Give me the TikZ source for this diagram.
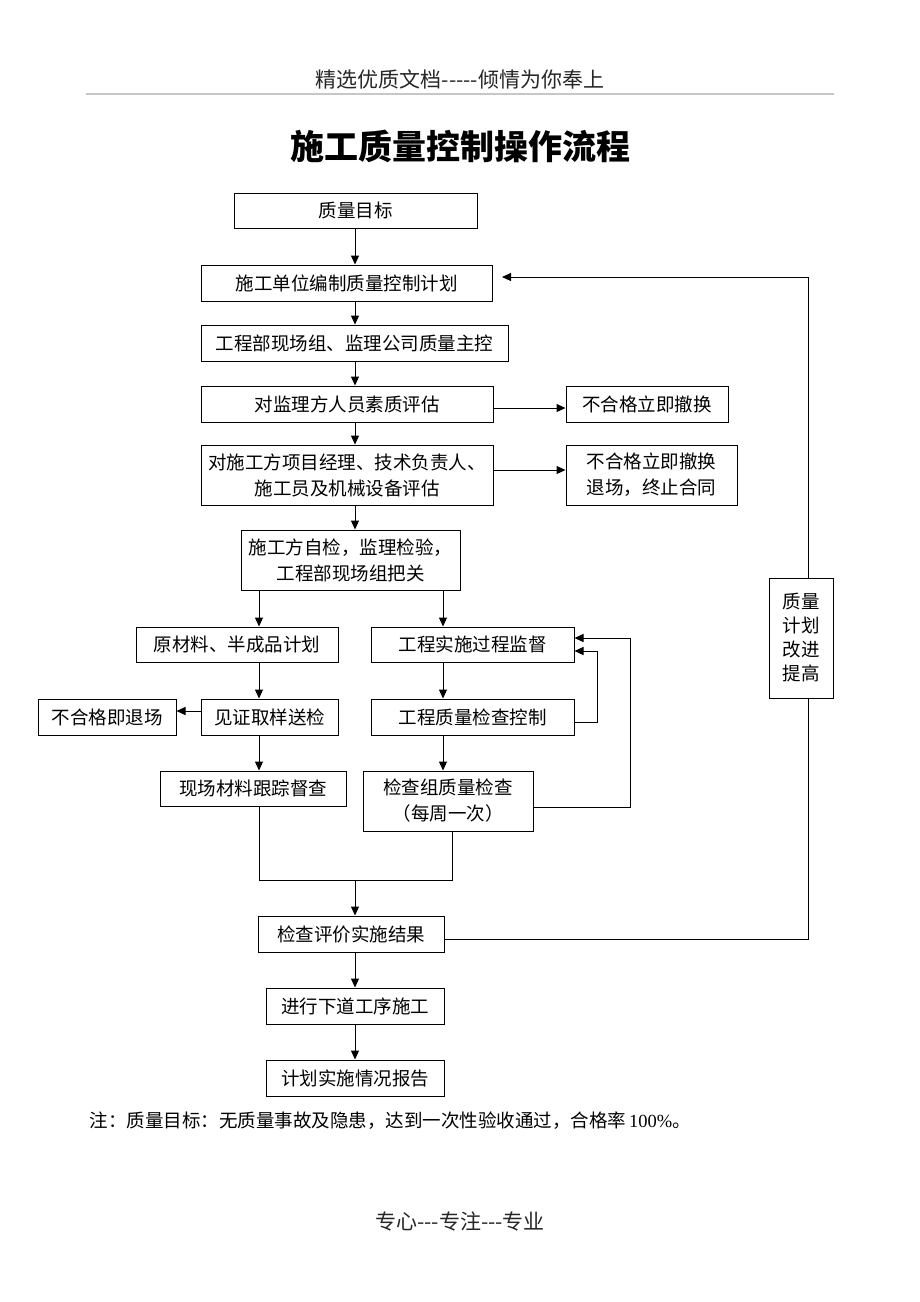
\documentclass[tikz,border=0pt]{standalone}
\usepackage{fontspec}
\setmainfont{Noto Sans CJK SC}
\newfontfamily\tms{Liberation Serif}
\usetikzlibrary{arrows.meta,backgrounds}
\begin{document}
\begin{tikzpicture}[x=1pt,y=-1pt,
  box/.style={draw,line width=1pt,fill=white,rectangle,inner sep=0pt,align=center,font=\fontsize{18.5}{26}\selectfont},
  arr/.style={line width=1pt,-{Triangle[length=9pt,width=8pt]}},
  ln/.style={line width=1pt}]
\useasboundingbox (0,0) rectangle (920,1302);

% header, title, notes
\node[font=\fontsize{21}{24}\selectfont,text=black!85] (hdr) at (460,79) {精选优质文档-{}-{}-{}-{}-倾情为你奉上};
\draw[line width=2pt,black!22] (86,94) -- (834,94);
\node[font=\fontsize{34}{38}\selectfont\bfseries] (title) at (460,146) {施工质量控制操作流程};
\node[font=\fontsize{18.5}{22}\selectfont,anchor=west] (note) at (86,1121) {注：质量目标：无质量事故及隐患，达到一次性验收通过，合格率\,{\tms 100\%}。};
\node[font=\fontsize{21}{24}\selectfont,text=black!85] (ftr) at (460,1221) {专心-{}-{}-专注-{}-{}-专业};

% main column
\node[box,minimum width=243,minimum height=35] (n1) at (355.5,210.5) {质量目标};
\node[box,minimum width=291,minimum height=36] (n2) at (346.5,283) {施工单位编制质量控制计划};
\node[box,minimum width=307,minimum height=36] (n3) at (354.5,343) {工程部现场组、监理公司质量主控};
\node[box,minimum width=292,minimum height=36] (n4) at (347,404) {对监理方人员素质评估};
\node[box,minimum width=162,minimum height=36] (r1) at (647,404) {不合格立即撤换};
\node[box,minimum width=292,minimum height=60] (n5) at (347,475) {对施工方项目经理、技术负责人、\\施工员及机械设备评估};
\node[box,minimum width=171,minimum height=60] (r2) at (651.5,475) {不合格立即撤换\\退场，终止合同};
\node[box,minimum width=219,minimum height=60] (n6) at (350.5,560) {施工方自检，监理检验，\\工程部现场组把关};

% left branch
\node[box,minimum width=202,minimum height=35] (a1) at (237,644.5) {原材料、半成品计划};
\node[box,minimum width=138,minimum height=36] (a0) at (107,717) {不合格即退场};
\node[box,minimum width=137,minimum height=36] (a2) at (269.5,717) {见证取样送检};
\node[box,minimum width=186,minimum height=35] (a3) at (253,788.5) {现场材料跟踪督查};

% right branch
\node[box,minimum width=203,minimum height=35] (b1) at (472.5,644.5) {工程实施过程监督};
\node[box,minimum width=203,minimum height=36] (b2) at (472.5,717) {工程质量检查控制};
\node[box,minimum width=170,minimum height=60] (b3) at (448,801) {检查组质量检查\\（每周一次）};

% lower column
\node[box,minimum width=186,minimum height=36] (c1) at (351,934) {检查评价实施结果};
\node[box,minimum width=178,minimum height=36] (c2) at (355,1006) {进行下道工序施工};
\node[box,minimum width=178,minimum height=36] (c3) at (355,1078) {计划实施情况报告};

% feedback box
\node[box,minimum width=64,minimum height=120,font=\fontsize{18.5}{24}\selectfont] (q) at (801,638) {质量\\计划\\改进\\提高};

% helper coordinates
\coordinate (mx) at (355,0);
\coordinate (lx) at (259,0);
\coordinate (rx) at (443,0);
\coordinate (ya) at (0,408);
\coordinate (yb) at (0,470);
\coordinate (yc) at (0,711);
\coordinate (p1) at (597,722);
\coordinate (p2) at (597,651);
\coordinate (p3) at (630,807);
\coordinate (p4) at (630,638);
\coordinate (j1) at (259,880);
\coordinate (j2) at (452,880);
\coordinate (j0) at (355,880);
\coordinate (f1) at (808,939);
\coordinate (f2) at (808,277);
\coordinate (f3) at (502,277);

\begin{scope}[on background layer]
\fill[white] (0,0) rectangle (920,1302);
\draw[arr] (mx |- n1.south) -- (mx |- n2.north);
\draw[arr] (mx |- n2.south) -- (mx |- n3.north);
\draw[arr] (mx |- n3.south) -- (mx |- n4.north);
\draw[arr] (mx |- n4.south) -- (mx |- n5.north);
\draw[arr] (mx |- n5.south) -- (mx |- n6.north);
\draw[arr] (n4.east |- ya) -- (r1.west |- ya);
\draw[arr] (n5.east |- yb) -- (r2.west |- yb);
\draw[arr] (lx |- n6.south) -- (lx |- a1.north);
\draw[arr] (rx |- n6.south) -- (rx |- b1.north);
\draw[arr] (lx |- a1.south) -- (lx |- a2.north);
\draw[arr] (a2.west |- yc) -- (a0.east |- yc);
\draw[arr] (lx |- a2.south) -- (lx |- a3.north);
\draw[arr] (rx |- b1.south) -- (rx |- b2.north);
\draw[arr] (rx |- b2.south) -- (rx |- b3.north);
\draw[arr] (b2.east |- p1) -- (p1) -- (p2) -- (b1.east |- p2);
\draw[arr] (b3.east |- p3) -- (p3) -- (p4) -- (b1.east |- p4);
\draw[ln] (lx |- a3.south) -- (j1) -- (j2) -- (j2 |- b3.south);
\draw[arr] (j0) -- (mx |- c1.north);
\draw[arr] (mx |- c1.south) -- (mx |- c2.north);
\draw[arr] (mx |- c2.south) -- (mx |- c3.north);
\draw[arr] (c1.east |- f1) -- (f1) -- (f2) -- (f3);
\end{scope}
\end{tikzpicture}
\end{document}
